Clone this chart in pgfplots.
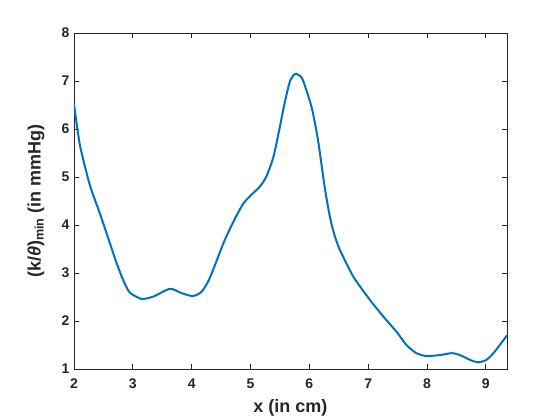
\documentclass[border=0pt]{standalone}
\usepackage{fontspec}
\setmainfont{Liberation Sans}
\usepackage{pgfplots}
\pgfplotsset{compat=1.18}
\definecolor{mblue}{rgb}{0,0.447,0.741}
\definecolor{axgray}{rgb}{0.15,0.15,0.15}
\begin{document}
\begin{tikzpicture}
\useasboundingbox (0,0) rectangle (560pt,420pt);
\begin{axis}[
  at={(74pt,51pt)}, anchor=south west,
  scale only axis, width=433pt, height=336pt,
  xmin=2, xmax=9.36, ymin=1, ymax=8,
  xtick={2,3,...,9}, ytick={1,2,...,8},
  tick align=inside, major tick length=5pt,
  axis line style={axgray, line width=0.8pt},
  tick style={axgray, line width=0.8pt},
  /pgf/number format/assume math mode=true,
  ticklabel style={font=\fontsize{14}{16}\selectfont\bfseries, text=axgray},
  xticklabel style={yshift=-6pt},
  yticklabel style={xshift=-1pt},
  label style={font=\fontsize{18}{21}\selectfont\bfseries, text=axgray},
  xlabel={x (in cm)},
  ylabel={(k/\textit{θ})\textsubscript{min} (in mmHg)},
  xlabel style={at={(axis description cs:0.5,-0.116)}, anchor=center},
  ylabel style={at={(axis description cs:-0.088,0.5)}, anchor=center, rotate=0},
]
\addplot[mblue, line width=2pt, smooth, tension=0.4] coordinates {
(2.00,6.52) (2.10,5.67) (2.27,4.83) (2.44,4.24) (2.60,3.66) (2.72,3.22)
(2.84,2.84) (2.95,2.59) (3.15,2.46) (3.35,2.51) (3.63,2.67) (3.83,2.58)
(4.02,2.52) (4.17,2.61) (4.31,2.90) (4.54,3.62) (4.71,4.07) (4.88,4.45)
(5.05,4.67) (5.16,4.80) (5.27,5.01) (5.39,5.42) (5.50,6.05) (5.58,6.54)
(5.67,6.99) (5.76,7.15) (5.87,7.07) (5.95,6.81) (6.05,6.40) (6.15,5.75)
(6.26,4.80) (6.35,4.17) (6.43,3.78) (6.52,3.48) (6.75,2.92) (7.03,2.44)
(7.28,2.06) (7.48,1.78) (7.65,1.50) (7.82,1.33) (7.99,1.27) (8.22,1.29)
(8.42,1.33) (8.56,1.29) (8.73,1.19) (8.87,1.14) (9.01,1.19) (9.15,1.36)
(9.36,1.70)
};
\end{axis}
\end{tikzpicture}
\end{document}
